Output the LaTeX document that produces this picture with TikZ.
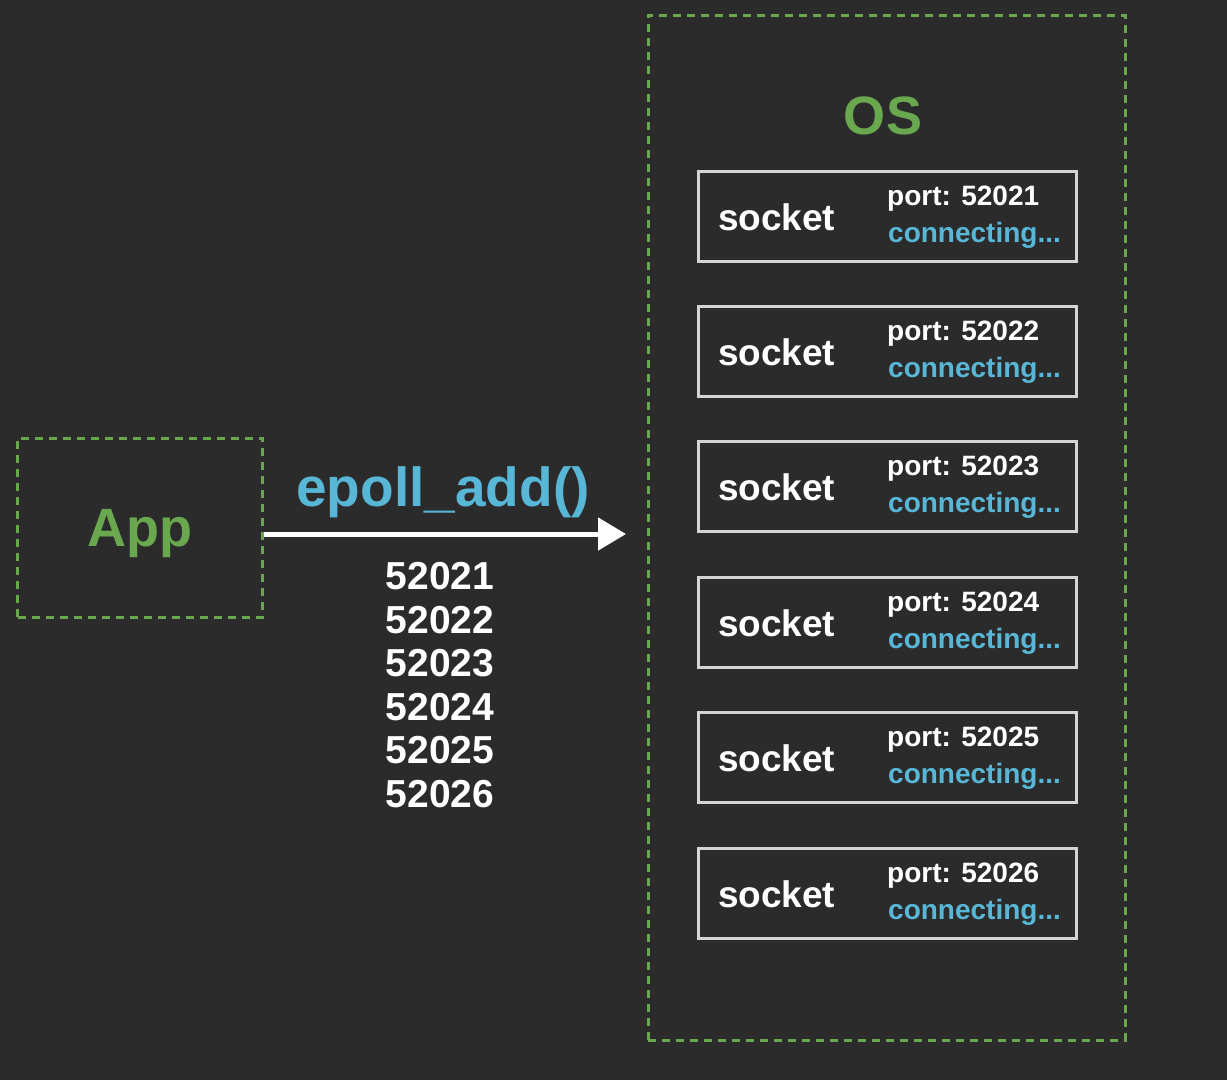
\documentclass[tikz,border=0pt]{standalone}
\usepackage{fontspec}
\setmainfont{Liberation Sans}
\usepackage{tikz}
\usetikzlibrary{positioning,arrows.meta}
\definecolor{bgdark}{RGB}{43,43,43}
\definecolor{osgreen}{RGB}{106,168,79}
\definecolor{callblue}{RGB}{88,182,214}
\definecolor{boxgray}{RGB}{212,212,212}
\tikzset{
    >={Triangle[length=28pt,width=32pt]},
    dashbox/.style={
        rectangle,
        draw=osgreen, line width=3pt,
        dash pattern=on 8pt off 6pt
    },
    sockbox/.style={
        rectangle,
        draw=boxgray, line width=3pt,
        minimum width=378pt,
        minimum height=90pt
    },
    flow/.style={draw=white, line width=5pt, ->},
    bigtext/.style={font={\bfseries\fontsize{37}{40}\selectfont}, text=white},
    smalltext/.style={font={\bfseries\fontsize{28}{30}\selectfont}, inner sep=0pt},
}

\begin{document}
\begin{tikzpicture}
    [
        x=1pt, y=-1pt,
        title/.style={font={\bfseries\fontsize{54}{58}\selectfont}, text=osgreen},
    ]
    \fill[bgdark] (0,0) rectangle (1227,1080);

    \node(app)[dashbox, minimum width=245pt, minimum height=179pt] at (140,527.5){};
    \node[title] at ([yshift=-6pt]app.center){App};
    \node(os)[dashbox, minimum width=477pt, minimum height=1025pt] at (886.5,527.5){};
    \node[title] at (883,116){OS};

    % sockets inside the OS
    \foreach \i/\cy in {1/216,2/351,3/486,4/622,5/757,6/893}{
        \node(sock\i)[sockbox] at (887,\cy){};
        \node(name\i)[bigtext, anchor=west] at ([xshift=18pt,yshift=-1pt]sock\i.west){socket};
        \node(port\i)[smalltext, text=white, anchor=west] at (887,\cy-17){port: 5202\i};
        \node(conn\i)[smalltext, text=callblue, anchor=west] at (888,\cy+19){connecting...};
    }

    \coordinate(tip) at (626,534);
    \draw[flow] (app.east |- tip) -- (tip);
    \node(call)[font={\bfseries\fontsize{55}{58}\selectfont}, text=callblue] at (443,492){epoll\_add()};
    \node(ports)[font={\bfseries\fontsize{39}{43.6}\selectfont}, text=white, align=center] at (440,685)
        {52021\\52022\\52023\\52024\\52025\\52026};
\end{tikzpicture}
\end{document}
